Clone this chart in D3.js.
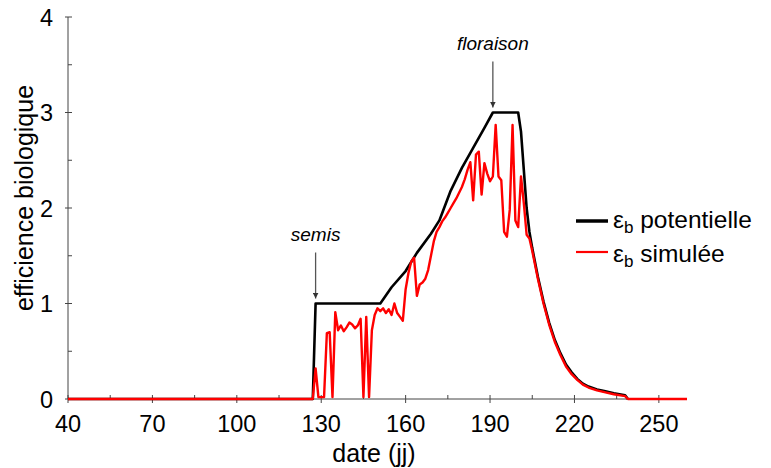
<!DOCTYPE html>
<html>
<head>
<meta charset="utf-8">
<script src="https://cdn.jsdelivr.net/npm/d3@7"></script>
<style>
  body { margin: 0; background: #fff; }
  svg { display: block; font-family: 'Liberation Sans', Arial, sans-serif; }
</style>
</head>
<body>
<div id="chart"></div>
<script>
// potential efficiency (black)
const potDays = [40, 127, 128, 151, 155, 160, 164, 169, 172, 176, 180, 184, 188, 191, 200, 201, 202, 203, 204, 205, 207, 209, 211, 213, 215, 217, 219, 221, 223, 225, 228, 231, 234, 238, 239]
const potValues = [0, 0, 1.0, 1.0, 1.17, 1.34, 1.53, 1.73, 1.87, 2.18, 2.42, 2.63, 2.84, 3.0, 3.0, 2.8, 2.4, 2.0, 1.75, 1.58, 1.28, 1.02, 0.8, 0.62, 0.48, 0.36, 0.28, 0.21, 0.16, 0.13, 0.1, 0.08, 0.06, 0.04, 0]

// simulated efficiency (red)
const simDays = [40, 127, 128, 129, 130, 131, 132, 133, 134, 135, 136, 137, 138, 139, 140, 141, 142, 143, 144, 145, 146, 147, 148, 149, 150,
  151, 152, 153, 154, 155, 156, 157, 158, 159, 160, 161, 162, 163, 164, 165, 166, 167, 168, 169, 170,
  171, 172, 173, 174, 175, 176, 177, 178, 179, 180, 181, 182, 183, 184, 185, 186, 187, 188, 189, 190,
  191, 192, 193, 194, 195, 196, 197, 198, 199, 200, 201, 202, 203, 204, 205, 207, 209, 211, 213, 215,
  217, 219, 221, 223, 225, 228, 231, 234, 238, 239, 260]
const simValues = [0, 0, 0.32, 0.02, 0.02, 0.02, 0.69, 0.70, 0.02, 0.91, 0.72, 0.77, 0.71, 0.75, 0.80, 0.78, 0.74, 0.77, 0.84, 0.02, 0.86, 0.02, 0.72, 0.88, 0.95,
  0.92, 0.95, 0.90, 0.94, 0.88, 1.0, 0.90, 0.86, 0.82, 1.15, 1.32, 1.44, 1.48, 1.08, 1.2, 1.22, 1.26, 1.35, 1.5, 1.65,
  1.75, 1.8, 1.86, 1.9, 1.95, 2.0, 2.05, 2.1, 2.16, 2.22, 2.3, 2.4, 2.48, 2.08, 2.56, 2.59, 2.14, 2.47, 2.36, 2.28,
  2.33, 2.87, 2.33, 2.29, 1.75, 1.70, 1.98, 2.87, 1.87, 1.80, 2.33, 2.05, 1.72, 1.68, 1.55, 1.26, 1.0, 0.78, 0.6, 0.46,
  0.34, 0.26, 0.2, 0.15, 0.12, 0.09, 0.07, 0.05, 0.03, 0, 0]

const xMajor = [40, 70, 100, 130, 160, 190, 220, 250]
const xMinor = [55, 85, 115, 145, 175, 205, 235]
const yMajor = [0, 1, 2, 3, 4]
const yMinor = [0.5, 1.5, 2.5, 3.5]

const legendLabels = ['potentielle', 'simulée']
const legendColors = ['#000000', '#ff0000']

const annotations = [
  { label: 'semis', day: 128, value: 1.0 },
  { label: 'floraison', day: 191, value: 3.0 },
]

const W = 771
const H = 468
const margin = { top: 17, right: 84, bottom: 69, left: 68 }
const width = W - margin.left - margin.right
const height = H - margin.top - margin.bottom

const svg = d3.select('#chart').append('svg').attr('width', W).attr('height', H)
const g = svg.append('g').attr('transform', `translate(${margin.left},${margin.top})`)

const x = d3.scaleLinear().domain([40, 260]).range([0, width])
const y = d3.scaleLinear().domain([0, 4]).range([height, 0])

const axisColor = '#444'

// x axis
const xAxis = g.append('g').attr('transform', `translate(0,${height})`)
xAxis.append('line').attr('x1', 0).attr('x2', width).attr('stroke', axisColor)
xAxis.selectAll('.maj').data(xMajor).join('line')
  .attr('x1', (d) => x(d)).attr('x2', (d) => x(d)).attr('y1', -4).attr('y2', 4).attr('stroke', axisColor)
xAxis.selectAll('.min').data(xMinor).join('line')
  .attr('class', 'min')
  .attr('x1', (d) => x(d)).attr('x2', (d) => x(d)).attr('y1', -4).attr('y2', 0).attr('stroke', axisColor)
xAxis.selectAll('text').data(xMajor).join('text')
  .attr('x', (d) => x(d)).attr('y', 33)
  .attr('text-anchor', 'middle').style('font-size', '23.5px')
  .text((d) => d)

// y axis
const yAxis = g.append('g')
yAxis.append('line').attr('y1', 0).attr('y2', height).attr('stroke', axisColor)
yAxis.selectAll('.maj').data(yMajor).join('line')
  .attr('y1', (d) => y(d)).attr('y2', (d) => y(d)).attr('x1', -3).attr('x2', 4).attr('stroke', axisColor)
yAxis.selectAll('.min').data(yMinor).join('line')
  .attr('class', 'min')
  .attr('y1', (d) => y(d)).attr('y2', (d) => y(d)).attr('x1', 0).attr('x2', 4).attr('stroke', axisColor)
yAxis.selectAll('text').data(yMajor).join('text')
  .attr('x', -15).attr('y', (d) => y(d) + 8.5)
  .attr('text-anchor', 'end').style('font-size', '23.5px')
  .text((d) => d)

svg.append('text')
  .attr('x', 374).attr('y', 462)
  .attr('text-anchor', 'middle').style('font-size', '25px')
  .text('date (jj)')

svg.append('text')
  .attr('transform', 'translate(33,198) rotate(-90)')
  .attr('text-anchor', 'middle').style('font-size', '25px')
  .text('efficience biologique')

// lines
const line = d3.line().x((d) => x(d[0])).y((d) => y(d[1]))
const potData = potDays.map((d, i) => [d, potValues[i]])
const simData = simDays.map((d, i) => [d, simValues[i]])

g.append('path').datum(potData).attr('d', line)
  .attr('fill', 'none').attr('stroke', '#000').attr('stroke-width', 2.6).attr('stroke-linejoin', 'round')
g.append('path').datum(simData).attr('d', line)
  .attr('fill', 'none').attr('stroke', '#ff0000').attr('stroke-width', 2.4).attr('stroke-linejoin', 'round')

// annotations
svg.append('defs').append('marker')
  .attr('id', 'arrow').attr('viewBox', '0 0 10 10').attr('refX', 10).attr('refY', 5)
  .attr('markerWidth', 6).attr('markerHeight', 6).attr('markerUnits', 'userSpaceOnUse').attr('orient', 'auto')
  .append('path').attr('d', 'M0,0 L10,5 L0,10 Z').attr('fill', '#333')

annotations.forEach((a) => {
  const ax = x(a.day)
  const ay = y(a.value)
  g.append('line')
    .attr('x1', ax).attr('x2', ax).attr('y1', ay - 51).attr('y2', ay - 5)
    .attr('stroke', '#555').attr('stroke-width', 1.3).attr('marker-end', 'url(#arrow)')
  g.append('text')
    .attr('x', ax).attr('y', ay - 63)
    .attr('text-anchor', 'middle').style('font-size', '19px').style('font-style', 'italic')
    .text(a.label)
})

// legend
const legend = svg.append('g').attr('transform', 'translate(576,221)')
legendLabels.forEach((lab, i) => {
  const row = legend.append('g').attr('transform', `translate(0,${i * 31})`)
  row.append('line').attr('x1', 0).attr('x2', 32).attr('stroke', legendColors[i]).attr('stroke-width', i === 0 ? 3.5 : 2.2)
  const t = row.append('text').attr('x', 37).attr('y', 7 + i * 3).style('font-size', '24.5px')
  t.append('tspan').text('ε')
  t.append('tspan').attr('dy', 5).style('font-size', '17px').text('b')
  t.append('tspan').attr('dy', -5).text(' ' + lab)
})
</script>
</body>
</html>
